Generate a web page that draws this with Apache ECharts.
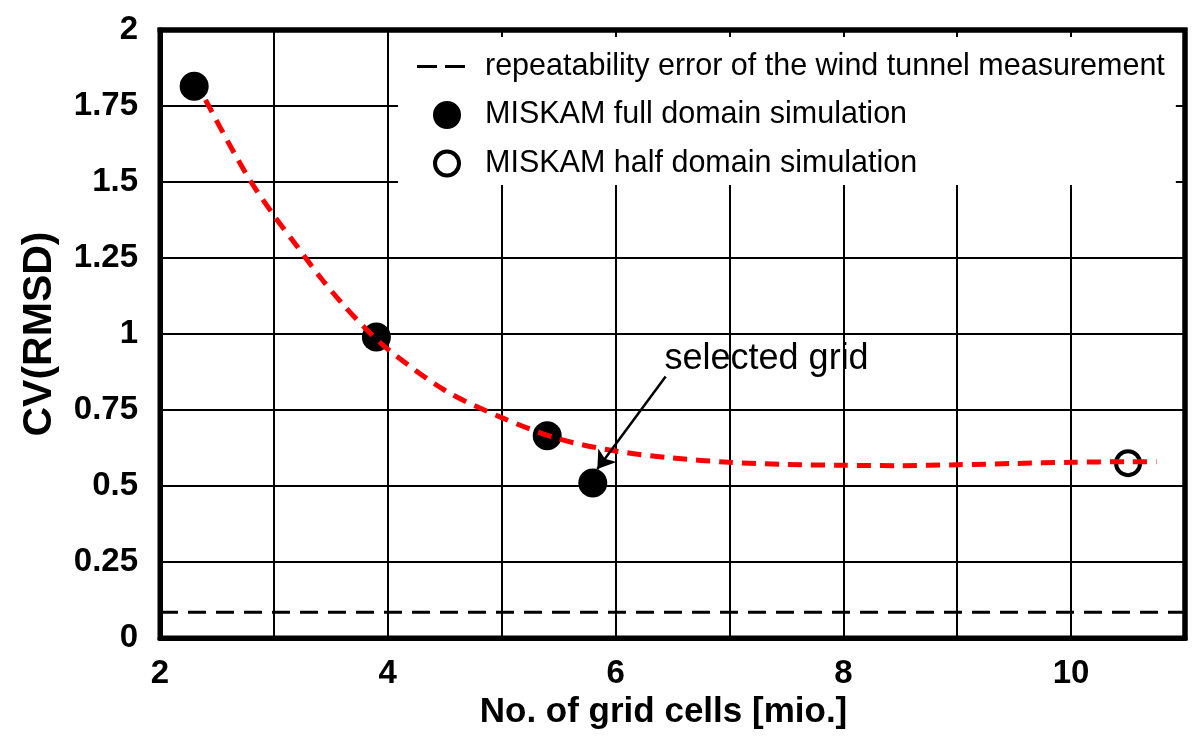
<!DOCTYPE html>
<html lang="en">
<head>
    <meta charset="UTF-8">
    <title>CV(RMSD) grid study</title>
    <script src="https://cdn.jsdelivr.net/npm/echarts@6/dist/echarts.min.js"></script>
    <style>
        html, body { margin: 0; padding: 0; background: #fff; }
    </style>
</head>
<body>
    <div id="main" style="width: 1198px;height:740px;"></div>

    <script type="text/javascript">
        // data
        var fullDomain = [[2.3, 1.815], [3.9, 0.99], [5.4, 0.665], [5.8, 0.51]];
        var halfDomain = [[10.5, 0.575]];
        var fitX = [2.4, 2.6, 2.8, 3.0, 3.2, 3.4, 3.6, 3.8, 4.0, 4.5, 5.0, 5.5, 6.0, 6.5, 7.0, 7.5, 8.0, 8.5, 9.0, 9.5, 10.0, 10.5, 10.75];
        var fitY = [1.77, 1.63, 1.50, 1.39, 1.29, 1.19, 1.10, 1.02, 0.95, 0.815, 0.725, 0.655, 0.615, 0.592, 0.578, 0.571, 0.568, 0.567, 0.57, 0.574, 0.578, 0.58, 0.58];
        var repeatError = 0.085;
        var xRange = [2, 11];
        var yRange = [0, 2];
        var arrowFrom = [6.44, 0.86];
        var arrowTo = [5.84, 0.556];
        var noteAt = [6.43, 0.918];

        var legendNames = [
            'repeatability error of the wind tunnel measurement',
            'MISKAM full domain simulation',
            'MISKAM half domain simulation'
        ];

        // legend icons: 68x28 box, the two L strokes only fix the box size
        var box = 'M0,0L0,28M68,0L68,28';
        var dashIcon = 'path://' + box + 'M5,12.5h20v3h-20zM33,12.5h20v3h-20z';
        var dotIcon = 'path://' + box + 'M21,14a14,14 0 1,0 28,0a14,14 0 1,0 -28,0z';
        var ringIcon = 'path://' + box + 'M21,14a14,14 0 1,0 28,0a14,14 0 1,0 -28,0zM25,14a10,10 0 1,1 20,0a10,10 0 1,1 -20,0z';

        var fitData = [];
        for (var i = 0; i < fitX.length; i++) {
            fitData.push([fitX[i], fitY[i]]);
        }

        // top and right edge of the frame, in axis values
        var frameData = [[xRange[0], yRange[1]], [xRange[1], yRange[1]], [xRange[1], yRange[0]]];

        var font = 'Liberation Sans, Arial, sans-serif';

        var option = {
            animation: false,
            textStyle: { fontFamily: font },
            grid: {
                left: 160, right: 13, top: 30, bottom: 102,
                show: true, borderColor: '#000', borderWidth: 5, backgroundColor: 'transparent'
            },
            // white box of the legend hides the grid lines, short stubs stay at the frame
            legend: {
                orient: 'vertical',
                left: 398,
                top: 37,
                padding: [14, 11, 6, 14],
                backgroundColor: '#fff',
                itemWidth: 68,
                itemHeight: 28,
                itemGap: 17.5,
                selectedMode: false,
                textStyle: { fontSize: 30.5, lineHeight: 30, color: '#000', fontFamily: font },
                data: [
                    { name: legendNames[0], icon: dashIcon, itemStyle: { color: '#000', borderWidth: 0 } },
                    { name: legendNames[1], icon: dotIcon, itemStyle: { color: '#000', borderWidth: 0 } },
                    { name: legendNames[2], icon: ringIcon, itemStyle: { color: '#000', borderWidth: 0 } }
                ]
            },
            xAxis: {
                type: 'value',
                min: xRange[0],
                max: xRange[1],
                interval: 1,
                name: 'No. of grid cells [mio.]',
                nameLocation: 'middle',
                nameGap: 47,
                nameTextStyle: { fontSize: 35, fontWeight: 'bold', color: '#000', padding: [0, 18, 0, 0] },
                axisLine: { show: true, onZero: false, lineStyle: { color: '#000', width: 5 } },
                axisTick: { show: false },
                axisLabel: {
                    fontSize: 33, fontWeight: 'bold', color: '#000', margin: 19,
                    formatter: function (v) { return v % 2 === 0 ? String(v) : ''; }
                },
                splitLine: { lineStyle: { color: '#000', width: 2 } }
            },
            yAxis: {
                type: 'value',
                min: yRange[0],
                max: yRange[1],
                interval: 0.25,
                name: 'CV(RMSD)',
                nameLocation: 'middle',
                nameGap: 100,
                nameTextStyle: { fontSize: 41, fontWeight: 'bold', color: '#000' },
                axisLine: { show: true, onZero: false, lineStyle: { color: '#000', width: 5 } },
                axisTick: { show: false },
                axisLabel: { fontSize: 33, fontWeight: 'bold', color: '#000', margin: 22 },
                splitLine: { lineStyle: { color: '#000', width: 2 } }
            },
            series: [
                {
                    name: legendNames[0],
                    type: 'line',
                    data: [[xRange[0], repeatError], [xRange[1], repeatError]],
                    symbol: 'none',
                    z: 2,
                    lineStyle: { color: '#000', width: 3, type: [18, 10] }
                },
                {
                    name: legendNames[1],
                    type: 'scatter',
                    data: fullDomain,
                    symbol: 'circle',
                    symbolSize: 29,
                    z: 2,
                    itemStyle: { color: '#000', opacity: 1 }
                },
                {
                    name: legendNames[2],
                    type: 'scatter',
                    data: halfDomain,
                    symbol: 'circle',
                    symbolSize: 24,
                    z: 2,
                    itemStyle: { color: '#fff', borderColor: '#000', borderWidth: 4, opacity: 1 }
                },
                {
                    name: 'fit',
                    type: 'line',
                    data: fitData,
                    smooth: 0.3,
                    symbol: 'none',
                    z: 3,
                    lineStyle: { color: '#ff0000', width: 5, type: [14, 9] }
                },
                {
                    name: 'note',
                    type: 'scatter',
                    data: [noteAt],
                    symbolSize: 0,
                    z: 4,
                    silent: true,
                    itemStyle: { opacity: 1 },
                    label: {
                        show: true,
                        position: 'right',
                        distance: 0,
                        formatter: 'selected grid',
                        fontSize: 36,
                        color: '#000',
                        opacity: 1
                    },
                    markLine: {
                        silent: true,
                        symbol: ['none', 'arrow'],
                        symbolSize: 17,
                        label: { show: false },
                        lineStyle: { color: '#000', width: 2.5, type: 'solid', opacity: 1 },
                        data: [[{ coord: arrowFrom }, { coord: arrowTo }]]
                    }
                },
                {
                    // heavy frame on the top and right edges
                    name: 'frame',
                    type: 'line',
                    data: frameData,
                    symbol: 'none',
                    clip: false,
                    silent: true,
                    z: 6,
                    lineStyle: { color: '#000', width: 5, type: 'solid', cap: 'square', join: 'miter' }
                }
            ]
        };

        var myChart = echarts.init(document.getElementById('main'));
        myChart.setOption(option);
    </script>
</body>
</html>
